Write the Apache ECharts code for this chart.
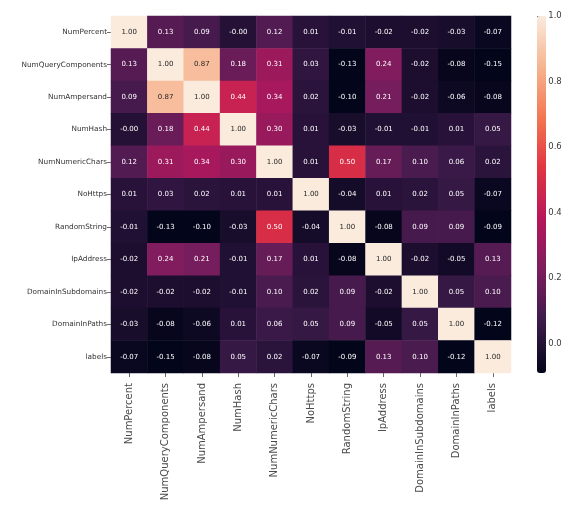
<!DOCTYPE html>
<html>
<head>
<meta charset="utf-8">
<script src="https://cdn.jsdelivr.net/npm/echarts@6/dist/echarts.min.js"></script>
<style>
  html, body { margin: 0; padding: 0; background: #ffffff; }
  #chart { width: 562px; height: 517px; }
</style>
</head>
<body>
<div id="chart"></div>
<script>
// Feature names (same order on both axes)
const features = [
  'NumPercent', 'NumQueryComponents', 'NumAmpersand', 'NumHash',
  'NumNumericChars', 'NoHttps', 'RandomString', 'IpAddress',
  'DomainInSubdomains', 'DomainInPaths', 'labels'
];

// Correlation matrix, one row per feature
const rowNumPercent          = [1.00, 0.13, 0.09, -0.001, 0.12, 0.01, -0.01, -0.02, -0.02, -0.03, -0.07];
const rowNumQueryComponents  = [0.13, 1.00, 0.87, 0.18, 0.31, 0.03, -0.13, 0.24, -0.02, -0.08, -0.15];
const rowNumAmpersand        = [0.09, 0.87, 1.00, 0.44, 0.34, 0.02, -0.10, 0.21, -0.02, -0.06, -0.08];
const rowNumHash             = [-0.001, 0.18, 0.44, 1.00, 0.30, 0.01, -0.03, -0.01, -0.01, 0.01, 0.05];
const rowNumNumericChars     = [0.12, 0.31, 0.34, 0.30, 1.00, 0.01, 0.50, 0.17, 0.10, 0.06, 0.02];
const rowNoHttps             = [0.01, 0.03, 0.02, 0.01, 0.01, 1.00, -0.04, 0.01, 0.02, 0.05, -0.07];
const rowRandomString        = [-0.01, -0.13, -0.10, -0.03, 0.50, -0.04, 1.00, -0.08, 0.09, 0.09, -0.09];
const rowIpAddress           = [-0.02, 0.24, 0.21, -0.01, 0.17, 0.01, -0.08, 1.00, -0.02, -0.05, 0.13];
const rowDomainInSubdomains  = [-0.02, -0.02, -0.02, -0.01, 0.10, 0.02, 0.09, -0.02, 1.00, 0.05, 0.10];
const rowDomainInPaths       = [-0.03, -0.08, -0.06, 0.01, 0.06, 0.05, 0.09, -0.05, 0.05, 1.00, -0.12];
const rowLabels              = [-0.07, -0.15, -0.08, 0.05, 0.02, -0.07, -0.09, 0.13, 0.10, -0.12, 1.00];

const matrixRows = [
  rowNumPercent, rowNumQueryComponents, rowNumAmpersand, rowNumHash,
  rowNumNumericChars, rowNoHttps, rowRandomString, rowIpAddress,
  rowDomainInSubdomains, rowDomainInPaths, rowLabels
];

// Colour bar tick labels
const colorbarTicks = [0.0, 0.2, 0.4, 0.6, 0.8, 1.0];
const scaleMin = -0.09;
const scaleMax = 1.0;

// "rocket" style sequential palette
const rocket = ['#03051a', '#3c1a4a', '#7a1d5e', '#b5175b', '#e13342', '#f37651', '#f6b48f', '#faebdd'];

const cells = [];
matrixRows.forEach((row, r) => {
  row.forEach((v, c) => { cells.push([c, r, v]); });
});

const labelFont = 'DejaVu Sans';
const tickStyle = { color: '#444', width: 0.8 };

const chart = echarts.init(document.getElementById('chart'));
chart.setOption({
  backgroundColor: '#ffffff',
  animation: false,
  grid: [
    { left: 111, top: 16, width: 400, height: 357 },
    { left: 537, top: 16, width: 9, height: 357 }
  ],
  xAxis: [
    {
      type: 'category', data: features, gridIndex: 0, position: 'bottom',
      axisLine: { show: false },
      axisTick: { show: true, alignWithLabel: true, length: 4, lineStyle: tickStyle },
      axisLabel: { rotate: 90, fontFamily: labelFont, fontSize: 10, color: '#4a4a4a', margin: 10, interval: 0 },
      splitLine: { show: false }
    },
    {
      type: 'value', gridIndex: 1, show: false, min: 0, max: 1
    }
  ],
  yAxis: [
    {
      type: 'category', data: features, gridIndex: 0, inverse: true,
      axisLine: { show: false },
      axisTick: { show: true, alignWithLabel: true, length: 4, lineStyle: tickStyle },
      axisLabel: { fontFamily: labelFont, fontSize: 7.3, color: '#333', margin: 4, interval: 0 },
      splitLine: { show: false }
    },
    {
      type: 'value', gridIndex: 1, position: 'right', min: scaleMin, max: scaleMax,
      axisLine: { show: false },
      splitLine: { show: false },
      axisTick: { show: true, length: 4, lineStyle: tickStyle, customValues: colorbarTicks },
      axisLabel: {
        fontFamily: labelFont, fontSize: 8.5, color: '#3a3a3a', margin: 9,
        customValues: colorbarTicks,
        formatter: v => v.toFixed(1)
      }
    }
  ],
  visualMap: {
    type: 'continuous',
    seriesIndex: 0,
    min: scaleMin, max: scaleMax,
    calculable: false,
    show: true,
    orient: 'vertical',
    left: 537, top: 16,
    itemWidth: 9, itemHeight: 357,
    padding: 0,
    text: null,
    showLabel: false,
    inRange: { color: rocket }
  },
  series: [
    {
      type: 'heatmap',
      xAxisIndex: 0, yAxisIndex: 0,
      itemStyle: { borderWidth: 0 },
      label: {
        show: true,
        fontFamily: labelFont,
        fontSize: 7,
        formatter: p => p.value[2].toFixed(2)
      },
      emphasis: { disabled: true },
      // Dark text on the pale cells, light text elsewhere
      data: cells.map(c => ({
        value: c,
        label: { color: c[2] > 0.6 ? '#262626' : '#ffffff' }
      }))
    }
  ]
});
</script>
</body>
</html>
